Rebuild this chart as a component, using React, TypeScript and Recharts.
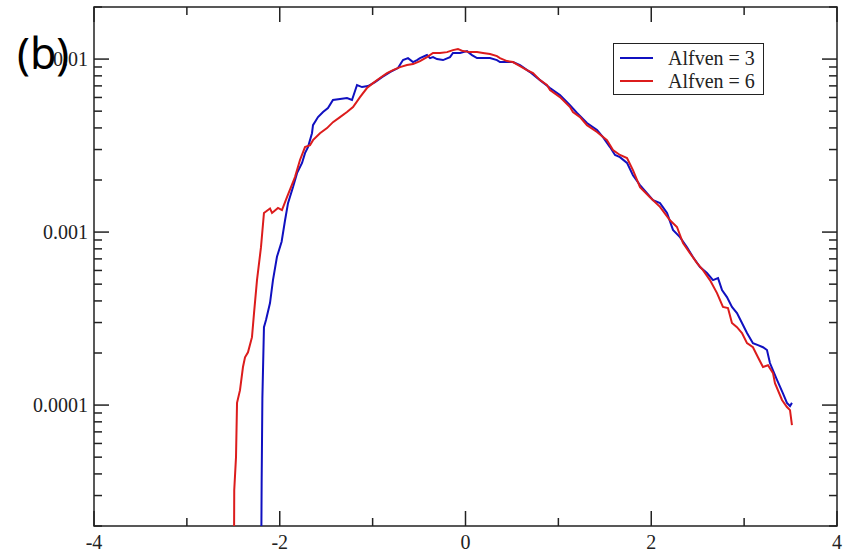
import React from "react";
import { LineChart, Line, XAxis, YAxis, ReferenceArea } from "recharts";

// ---- data ----
const seriesNames = ["Alfven = 3", "Alfven = 6"];
const seriesColors = ["#1010c0", "#dc1c1c"];

const blueX = [
  -2.2, -2.195, -2.187, -2.17, -2.148, -2.105, -2.073, -2.03, -1.98, -1.943, -1.911, -1.857, -1.814, -1.76,
  -1.728, -1.696, -1.653, -1.642, -1.588, -1.534, -1.481, -1.427, -1.351, -1.276, -1.222, -1.168, -1.114,
  -1.05, -0.974, -0.899, -0.813, -0.727, -0.673, -0.619, -0.565, -0.522, -0.49, -0.415, -0.382, -0.35,
  -0.307, -0.242, -0.167, -0.135, -0.059, 0.016, 0.07, 0.124, 0.188, 0.264, 0.339, 0.371, 0.447, 0.511,
  0.587, 0.694, 0.802, 0.91, 1.017, 1.125, 1.201, 1.308, 1.416, 1.48, 1.556, 1.61, 1.663, 1.739, 1.803,
  1.879, 1.954, 2.019, 2.094, 2.17, 2.234, 2.309, 2.385, 2.449, 2.525, 2.6, 2.665, 2.719, 2.762, 2.815,
  2.869, 2.923, 2.977, 3.031, 3.095, 3.149, 3.203, 3.246, 3.278, 3.354, 3.418, 3.461, 3.494, 3.515,
];
const blueY = [
  1.2e-5, 3.5e-5, 1.1e-4, 2.82e-4, 3.1e-4, 3.89e-4, 5.28e-4, 7.2e-4, 8.8e-4, 1.17e-3, 1.47e-3, 1.82e-3,
  2.19e-3, 2.51e-3, 2.86e-3, 3.1e-3, 3.73e-3, 4.15e-3, 4.62e-3, 4.94e-3, 5.21e-3, 5.8e-3, 5.87e-3, 5.95e-3,
  5.8e-3, 7.08e-3, 6.89e-3, 6.98e-3, 7.36e-3, 7.87e-3, 8.41e-3, 8.87e-3, 9.87e-3, 1.013e-2, 9.61e-3,
  9.87e-3, 1.013e-2, 1.055e-2, 1.013e-2, 1.027e-2, 1.0e-2, 9.87e-3, 1.027e-2, 1.084e-2, 1.084e-2,
  1.112e-2, 1.055e-2, 1.013e-2, 1.013e-2, 1.013e-2, 9.87e-3, 9.61e-3, 9.61e-3, 9.61e-3, 9.23e-3, 8.41e-3,
  7.56e-3, 6.8e-3, 6.19e-3, 5.42e-3, 4.88e-3, 4.27e-3, 3.89e-3, 3.54e-3, 3.1e-3, 2.79e-3, 2.71e-3,
  2.51e-3, 2.13e-3, 1.87e-3, 1.68e-3, 1.53e-3, 1.47e-3, 1.29e-3, 1.03e-3, 9.35e-4, 8.18e-4, 7.17e-4,
  6.28e-4, 5.8e-4, 5.28e-4, 5.42e-4, 4.62e-4, 4.21e-4, 3.69e-4, 3.4e-4, 2.98e-4, 2.61e-4, 2.28e-4,
  2.22e-4, 2.16e-4, 2.08e-4, 1.75e-4, 1.4e-4, 1.17e-4, 1.03e-4, 9.87e-5, 1.03e-4,
];

const redX = [
  -2.493, -2.49, -2.471, -2.46, -2.428, -2.396, -2.374, -2.342, -2.299, -2.277, -2.245, -2.202, -2.17,
  -2.105, -2.083, -2.019, -1.976, -1.922, -1.836, -1.782, -1.728, -1.674, -1.642, -1.567, -1.491, -1.427,
  -1.351, -1.276, -1.211, -1.136, -1.061, -0.996, -0.921, -0.845, -0.781, -0.705, -0.63, -0.565, -0.49,
  -0.415, -0.35, -0.275, -0.199, -0.135, -0.081, -0.027, 0.048, 0.124, 0.188, 0.264, 0.339, 0.371, 0.447,
  0.511, 0.587, 0.662, 0.727, 0.802, 0.877, 0.91, 1.017, 1.125, 1.157, 1.233, 1.308, 1.416, 1.523, 1.588,
  1.663, 1.739, 1.803, 1.879, 1.986, 2.094, 2.202, 2.277, 2.342, 2.417, 2.493, 2.557, 2.632, 2.708, 2.772,
  2.826, 2.869, 2.923, 2.977, 3.031, 3.095, 3.149, 3.203, 3.257, 3.311, 3.332, 3.408, 3.461, 3.494, 3.515,
];
const redY = [
  1.2e-5, 3.23e-5, 5.0e-5, 1.03e-4, 1.22e-4, 1.66e-4, 1.89e-4, 2.02e-4, 2.47e-4, 3.4e-4, 5.28e-4, 8.18e-4,
  1.29e-3, 1.37e-3, 1.29e-3, 1.38e-3, 1.34e-3, 1.59e-3, 2.08e-3, 2.61e-3, 3.1e-3, 3.18e-3, 3.4e-3,
  3.73e-3, 3.99e-3, 4.32e-3, 4.62e-3, 4.94e-3, 5.28e-3, 6.03e-3, 6.8e-3, 7.26e-3, 7.77e-3, 8.3e-3,
  8.64e-3, 8.99e-3, 9.23e-3, 9.36e-3, 9.74e-3, 1.027e-2, 1.084e-2, 1.084e-2, 1.097e-2, 1.127e-2,
  1.143e-2, 1.112e-2, 1.097e-2, 1.097e-2, 1.084e-2, 1.07e-2, 1.041e-2, 1.013e-2, 9.74e-3, 9.61e-3,
  9.11e-3, 8.64e-3, 8.3e-3, 7.56e-3, 7.08e-3, 6.62e-3, 6.03e-3, 5.28e-3, 4.94e-3, 4.62e-3, 4.15e-3,
  3.79e-3, 3.4e-3, 2.98e-3, 2.79e-3, 2.68e-3, 2.28e-3, 1.82e-3, 1.59e-3, 1.4e-3, 1.17e-3, 1.07e-3,
  8.63e-4, 7.56e-4, 6.62e-4, 6.03e-4, 5.28e-4, 4.44e-4, 3.69e-4, 3.64e-4, 2.98e-4, 2.82e-4, 2.61e-4,
  2.28e-4, 2.16e-4, 1.89e-4, 1.66e-4, 1.7e-4, 1.53e-4, 1.34e-4, 1.07e-4, 9.74e-5, 9.35e-5, 7.66e-5,
];

const xTicks = [-4, -3, -2, -1, 0, 1, 2, 3, 4];
const xMajorTicks = [-4, -2, 0, 2, 4];
const yTicks = [
  2e-5, 3e-5, 4e-5, 5e-5, 6e-5, 7e-5, 8e-5, 9e-5,
  1e-4, 2e-4, 3e-4, 4e-4, 5e-4, 6e-4, 7e-4, 8e-4, 9e-4,
  1e-3, 2e-3, 3e-3, 4e-3, 5e-3, 6e-3, 7e-3, 8e-3, 9e-3,
  1e-2, 2e-2,
];
const yMajorTicks = [1e-4, 1e-3, 1e-2];
const yMajorLabels = ["0.0001", "0.001", "0.01"];

const blueData = blueX.map((x, i) => ({ x, y: blueY[i] }));
const redData = redX.map((x, i) => ({ x, y: redY[i] }));

// ---- layout ----
const W = 856;
const H = 554;
const LEFT = 94;
const RIGHT = 837;
const TOP = 7;
const BOTTOM = 526;
const AXIS_COLOR = "#222";
const SERIF = "'Liberation Serif', 'Times New Roman', serif";

const XTick = (props: any) => {
  const { x, payload } = props;
  const v = payload.value;
  const major = xMajorTicks.includes(v);
  const len = major ? 15 : 8;
  return (
    <g>
      <line x1={x} x2={x} y1={BOTTOM} y2={BOTTOM - len} stroke={AXIS_COLOR} strokeWidth={1.5} />
      <line x1={x} x2={x} y1={TOP} y2={TOP + len} stroke={AXIS_COLOR} strokeWidth={1.5} />
      {major && (
        <text x={x} y={549} textAnchor="middle" fontFamily={SERIF} fontSize={20} fill={AXIS_COLOR}>
          {String(v)}
        </text>
      )}
    </g>
  );
};

const YTick = (props: any) => {
  const { y, payload } = props;
  const v = payload.value;
  const idx = yMajorTicks.findIndex((m) => Math.abs(m - v) / m < 1e-6);
  const major = idx >= 0;
  const len = major ? 15 : 8;
  return (
    <g>
      <line x1={LEFT} x2={LEFT + len} y1={y} y2={y} stroke={AXIS_COLOR} strokeWidth={1.5} />
      <line x1={RIGHT} x2={RIGHT - len} y1={y} y2={y} stroke={AXIS_COLOR} strokeWidth={1.5} />
      {major && (
        <text x={LEFT - 6} y={y} dy="0.35em" textAnchor="end" fontFamily={SERIF} fontSize={20} fill={AXIS_COLOR}>
          {yMajorLabels[idx]}
        </text>
      )}
    </g>
  );
};

export default function App() {
  return (
    <div style={{ position: "absolute", left: 0, top: 0, width: W, height: H, background: "#fff" }}>
      <LineChart
        width={W}
        height={H}
        margin={{ top: TOP, right: W - RIGHT, bottom: 0, left: 0 }}
      >
        <XAxis
          type="number"
          dataKey="x"
          domain={[-4, 4]}
          ticks={xTicks}
          allowDataOverflow
          height={H - BOTTOM}
          axisLine={false}
          tickLine={false}
          tick={<XTick />}
          interval={0}
        />
        <YAxis
          type="number"
          scale="log"
          domain={[2e-5, 2e-2]}
          ticks={yTicks}
          allowDataOverflow
          width={LEFT}
          axisLine={false}
          tickLine={false}
          tick={<YTick />}
          interval={0}
        />
        <ReferenceArea
          x1={-4}
          x2={4}
          y1={2e-5}
          y2={2e-2}
          fill="none"
          fillOpacity={0}
          stroke={AXIS_COLOR}
          strokeWidth={1.5}
          ifOverflow="visible"
        />
        <Line
          data={blueData}
          dataKey="y"
          type="linear"
          stroke={seriesColors[0]}
          strokeWidth={2}
          dot={false}
          isAnimationActive={false}
          name={seriesNames[0]}
        />
        <Line
          data={redData}
          dataKey="y"
          type="linear"
          stroke={seriesColors[1]}
          strokeWidth={2}
          dot={false}
          isAnimationActive={false}
          name={seriesNames[1]}
        />
      </LineChart>

      {/* legend */}
      <div
        style={{
          position: "absolute",
          left: 613,
          top: 43,
          width: 151,
          height: 52,
          border: `1.5px solid ${AXIS_COLOR}`,
          background: "#fff",
          boxSizing: "border-box",
          fontFamily: SERIF,
          fontSize: 20,
          color: AXIS_COLOR,
        }}
      >
        {seriesNames.map((name, i) => (
          <div
            key={name}
            style={{ position: "absolute", left: 0, top: 4 + i * 23, height: 20, width: 151, display: "flex", alignItems: "center" }}
          >
            <div style={{ marginLeft: 6, width: 33, height: 2, background: seriesColors[i] }} />
            <span style={{ marginLeft: 15, lineHeight: "20px", whiteSpace: "nowrap" }}>{name}</span>
          </div>
        ))}
      </div>

      {/* panel label */}
      <div
        style={{
          position: "absolute",
          left: 17,
          top: 31,
          fontFamily: "'Noto Sans', 'Liberation Sans', sans-serif",
          fontSize: 43,
          lineHeight: "43px",
          color: "#000",
        }}
      >
        (b)
      </div>
    </div>
  );
}
